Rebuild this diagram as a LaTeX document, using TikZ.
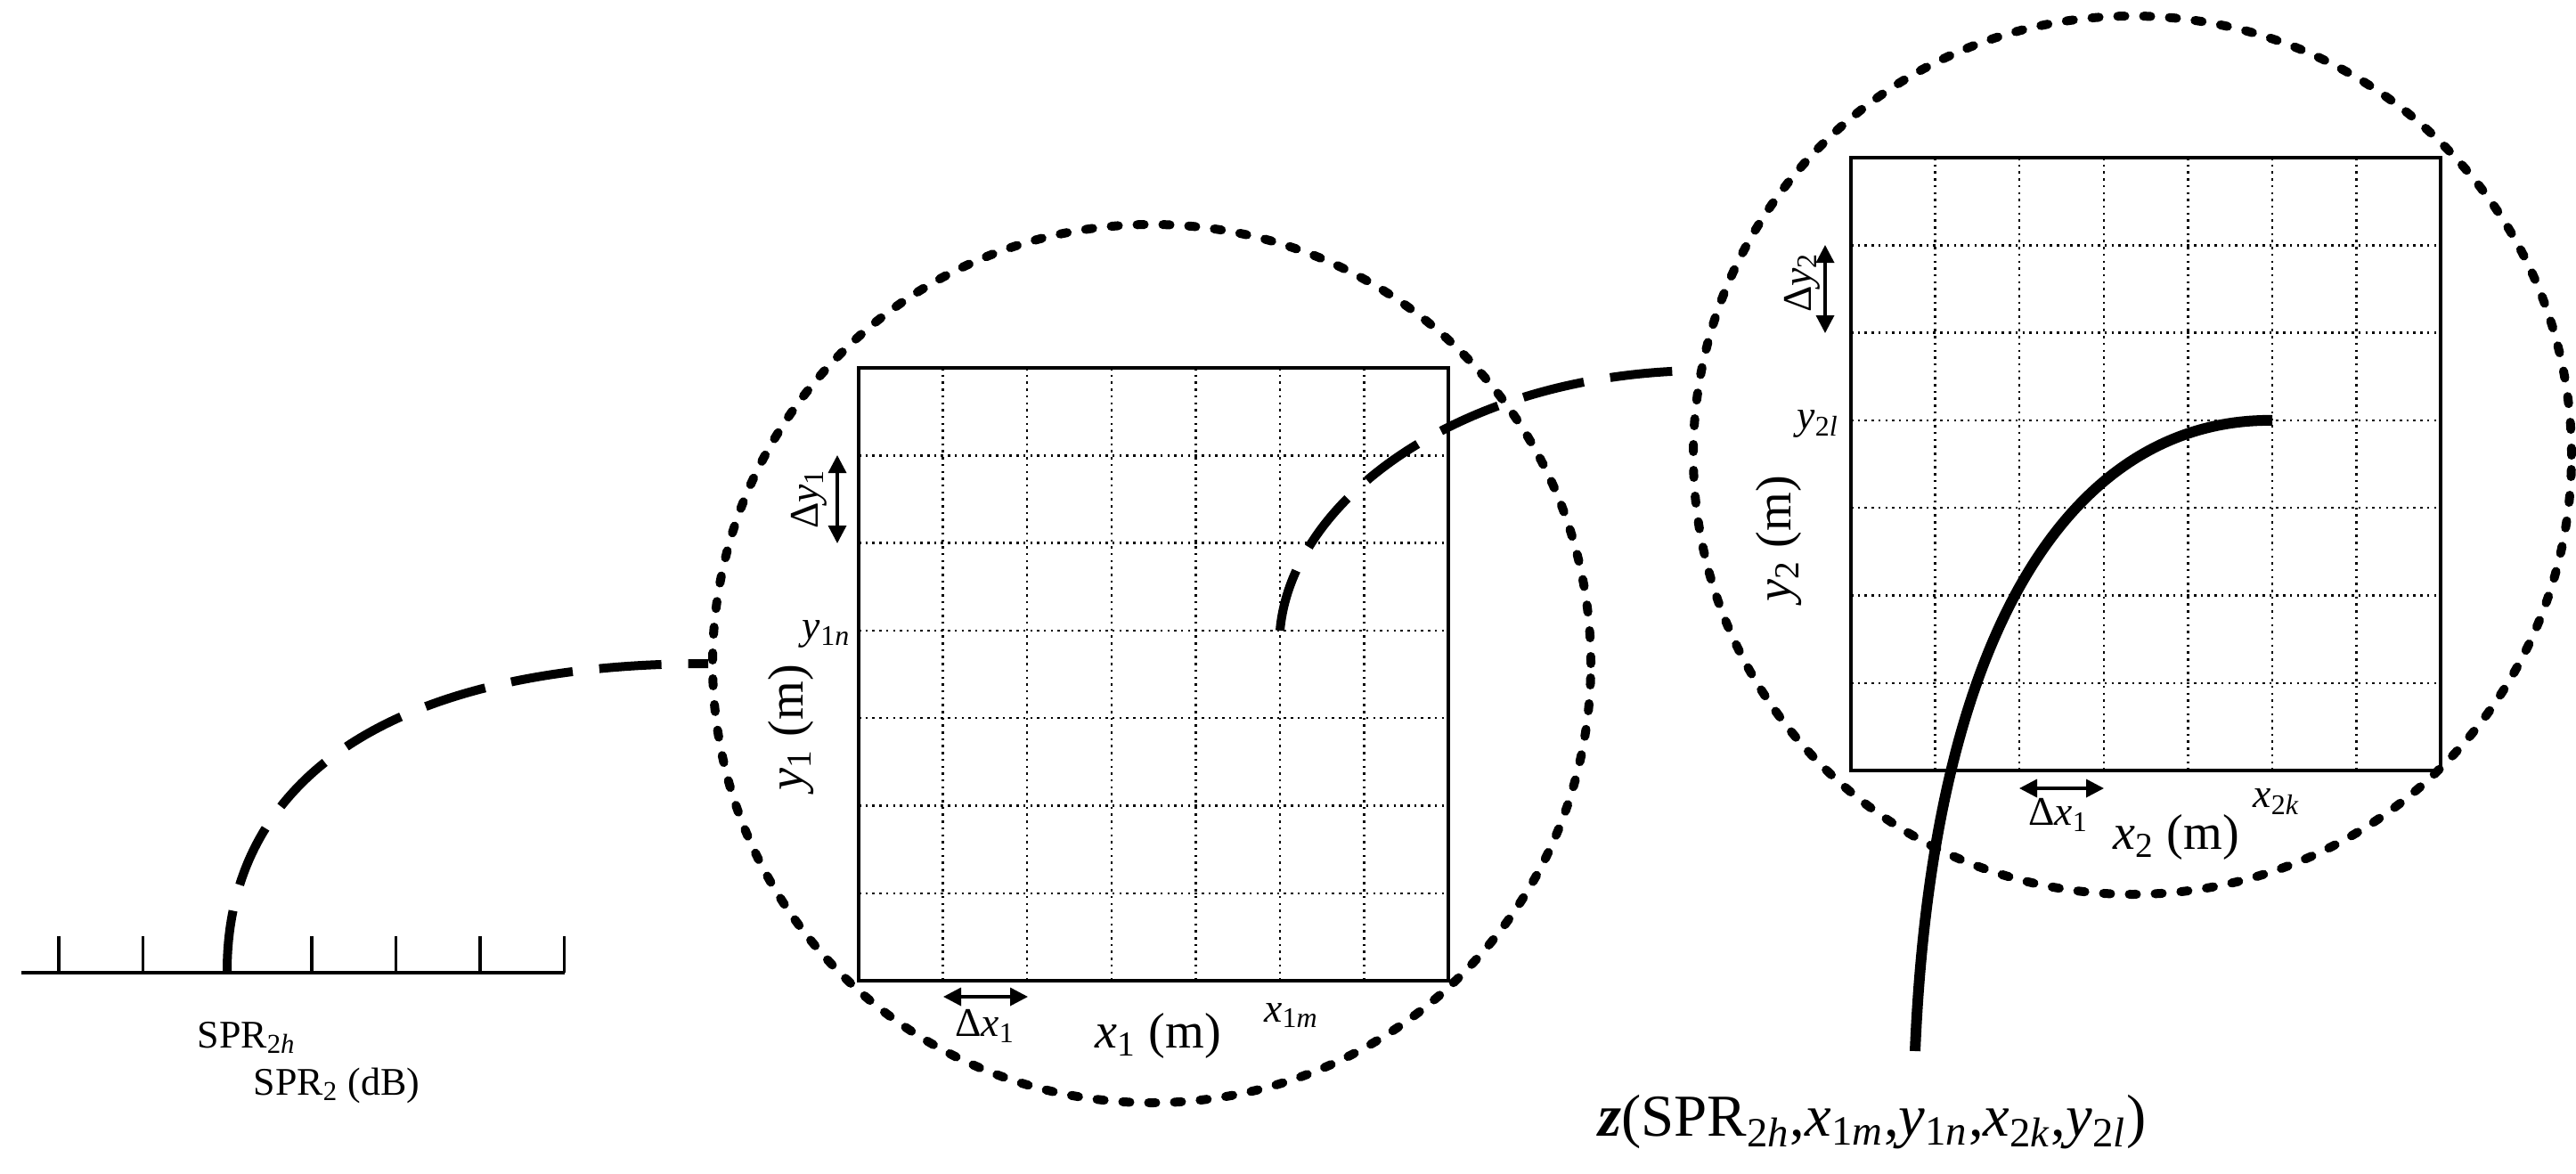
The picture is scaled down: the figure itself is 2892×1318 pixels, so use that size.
\documentclass[tikz,border=0pt]{standalone}
\usepackage{fontspec}
\setmainfont{Liberation Serif}
\usetikzlibrary{arrows.meta}
\newcommand{\vsub}[2]{\textit{#1}\textsubscript{#2}}
\tikzset{
    ring/.style={circle, draw, line width=1mm, dash pattern=on 0.8mm off 2.1mm, line cap=round, minimum size=98.6mm, inner sep=0pt},
    sqframe/.style={line width=1pt},
    gridline/.style={line width=0.7pt, dash pattern=on 0.25mm off 0.52mm},
    link/.style={line width=1mm, dash pattern=on 7mm off 3mm},
    trace/.style={line width=1.2mm},
    dblarrow/.style={line width=1pt, {Triangle[length=2mm,width=2mm]}-{Triangle[length=2mm,width=2mm]}},
    axislbl/.style={font=\fontsize{12.5pt}{15pt}\selectfont, inner sep=0pt},
    lbl/.style={font=\fontsize{16pt}{18pt}\selectfont, inner sep=0pt},
    smalllbl/.style={font=\fontsize{13pt}{15pt}\selectfont, inner sep=0pt}
}

\begin{document}
\begin{tikzpicture}[x=0.1mm, y=-0.1mm]
                    \useasboundingbox (0,0) rectangle (2892,1318);
%                    SPR axis
                    \draw[line width=1pt] (24,1092) -- (634,1092);
                    \foreach \i in {0,...,6} {
                        \draw[line width=1pt] (66+94.6*\i,1092) -- ++(0,-41);
                    }
                    \coordinate (h2) at (255,1092);
                    \node[axislbl] (spr2h) at (277,1165) {SPR\textsubscript{2\textit{h}}};
                    \node[axislbl] (spr2) at (378,1219) {SPR\textsubscript{2} (dB)};

%                    circles
                    \node[ring] (c1) at (1293,745) {};
                    \node[ring] (c2) at (2394,511) {};

%                    square 1
                    \foreach \i in {1,...,6} {
                        \draw[gridline] (964+94.6*\i,413) -- (964+94.6*\i,1101);
                        \draw[gridline] (964,413+98.3*\i) -- (1626,413+98.3*\i);
                    }
                    \draw[sqframe] (964,413) rectangle (1626,1101);
                    \coordinate (x1m) at (964+94.6*5,413+98.3*3);
                    \draw[dblarrow] (940,511) -- (940,610);
                    \draw[dblarrow] (1059,1119) -- (1154,1119);
                    \node[smalllbl, rotate=90] (dy1) at (908,560) {Δ\vsub{y}{1}};
                    \node[smalllbl] (y1n) at (928,712) {\vsub{y}{1\textit{n}}};
                    \node[lbl, rotate=90] (y1) at (888,817) {\vsub{y}{1} (m)};
                    \node[smalllbl] (dx1) at (1106,1152) {Δ\vsub{x}{1}};
                    \node[lbl] (x1) at (1300,1163) {\vsub{x}{1} (m)};
                    \node[smalllbl] (x1mlbl) at (1450,1140) {\vsub{x}{1\textit{m}}};

%                    square 2
                    \foreach \i in {1,...,6} {
                        \draw[gridline] (2078+94.6*\i,177) -- (2078+94.6*\i,865);
                        \draw[gridline] (2078,177+98.3*\i) -- (2740,177+98.3*\i);
                    }
                    \draw[sqframe] (2078,177) rectangle (2740,865);
                    \coordinate (x2k) at (2078+94.6*5,177+98.3*3);
                    \coordinate (zend) at (2150,1180);
                    \draw[dblarrow] (2049,275) -- (2049,374);
                    \draw[dblarrow] (2267,885) -- (2362,885);
                    \node[smalllbl, rotate=90] (dy2) at (2023,317) {Δ\vsub{y}{2}};
                    \node[smalllbl] (y2l) at (2041,476) {\vsub{y}{2\textit{l}}};
                    \node[lbl, rotate=90] (y2) at (1997,605) {\vsub{y}{2} (m)};
                    \node[smalllbl] (dx2) at (2311,915) {Δ\vsub{x}{1}};
                    \node[lbl] (x2) at (2443,940) {\vsub{x}{2} (m)};
                    \node[smalllbl] (x2klbl) at (2556,900) {\vsub{x}{2\textit{k}}};

%                    curves
                    \draw[link] (h2) .. controls (254,880) and (430,745) .. (c1.west);
                    \draw[link] (x1m) .. controls (1450,560) and (1640,420) .. (c2.169);
                    \draw[trace] (x2k) .. controls (2330,470) and (2170,700) .. (zend);
                    \node[font=\fontsize{19pt}{23pt}\selectfont, inner sep=0pt] (zlbl) at (2102,1260)
                        {\textbf{\textit{z}}(SPR\textsubscript{2\textit{h}},\vsub{x}{1\textit{m}},\vsub{y}{1\textit{n}},\vsub{x}{2\textit{k}},\vsub{y}{2\textit{l}})};

                \end{tikzpicture}
\end{document}
